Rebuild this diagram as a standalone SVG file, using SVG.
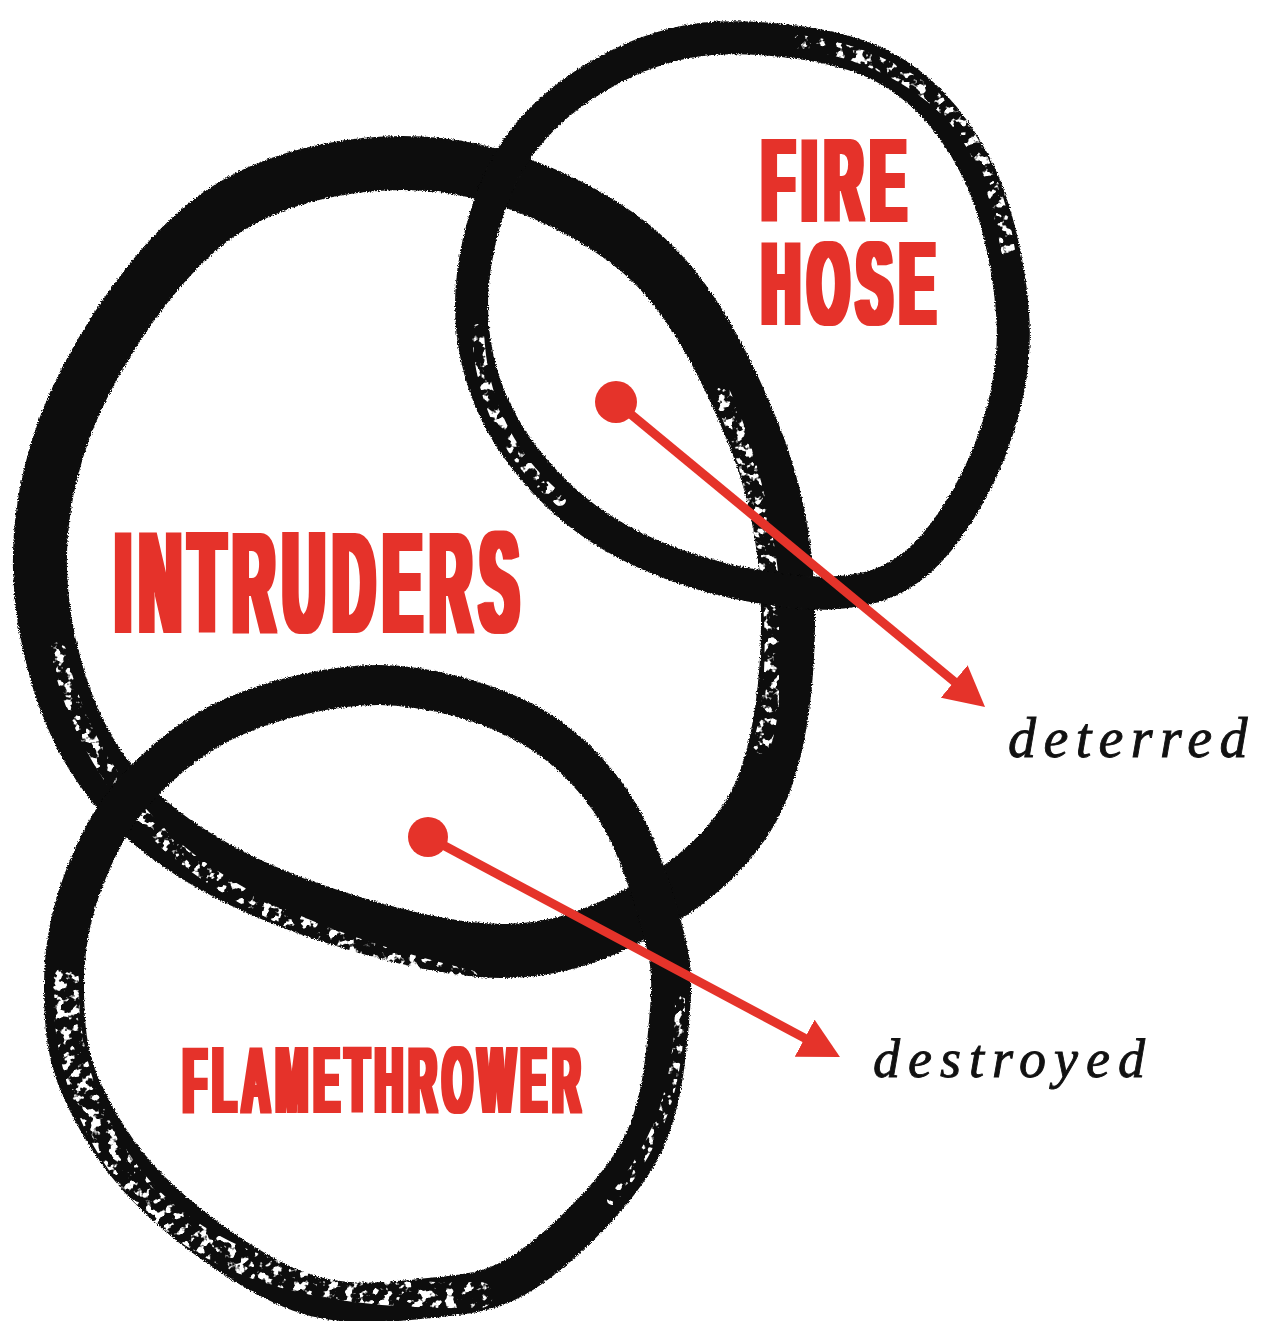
<svg xmlns="http://www.w3.org/2000/svg" width="1268" height="1321" viewBox="0 0 1268 1321">
  <defs>
    <style>
      .ring { fill: none; stroke: #0b0b0b; stroke-linejoin: round; filter: url(#rough); }
      .dry { fill: none; stroke: #ffffff; stroke-linecap: round; filter: url(#speck); }
      .label { font-family: "Liberation Sans", Arial, sans-serif; font-weight: bold; fill: #e5332a; }
      .note { font-family: "Liberation Serif", "Times New Roman", serif; font-style: italic; fill: #111111; stroke: #111111; stroke-width: 0.9; }
      .arrow { stroke: #e5332a; stroke-width: 9; fill: none; }
      .dot { fill: #e5332a; }
    </style>
    <filter id="rough" x="-5%" y="-5%" width="110%" height="110%">
      <feTurbulence type="fractalNoise" baseFrequency="0.7" numOctaves="2" seed="4" result="n"/>
      <feDisplacementMap in="SourceGraphic" in2="n" scale="4" xChannelSelector="R" yChannelSelector="G"/>
    </filter>
    <filter id="speck" x="-10%" y="-10%" width="120%" height="120%" color-interpolation-filters="sRGB">
      <feTurbulence type="fractalNoise" baseFrequency="0.11" numOctaves="3" seed="11" result="m"/>
      <feColorMatrix in="m" type="matrix" values="0 0 0 0 0  0 0 0 0 0  0 0 0 0 0  11 0 0 0 -5.9" result="mask"/>
      <feComposite in="SourceGraphic" in2="mask" operator="in"/>
    </filter>
    <filter id="stemFH" x="-10%" y="-10%" width="120%" height="120%">
      <feMorphology operator="dilate" radius="8.9 0.5"/>
    </filter>
    <filter id="stemIN" x="-10%" y="-10%" width="120%" height="120%">
      <feMorphology operator="dilate" radius="9.8 0.5"/>
    </filter>
    <filter id="stemFL" x="-10%" y="-10%" width="120%" height="120%">
      <feMorphology operator="dilate" radius="7.2 0.5"/>
    </filter>
    <marker id="head" viewBox="0 0 40 42" refX="10" refY="21" markerWidth="40" markerHeight="42" markerUnits="userSpaceOnUse" orient="auto">
      <path d="M0,0 L40,21 L0,42 Z" fill="#e5332a"/>
    </marker>
  </defs>
  <rect x="0" y="0" width="1268" height="1321" fill="#ffffff"/>

  <g id="node-intruders">
    <path class="ring" stroke-width="54" d="M440,165 C508.3,172.5 588,207.8 640,252 C692,296.2 727.3,370.3 752,430 C776.7,489.7 787.2,548.3 788,610 C788.8,671.7 781.7,749.7 757,800 C732.3,850.3 686.2,887 640,912 C593.8,937 546.7,955.3 480,950 C413.3,944.7 304.2,911.7 240,880 C175.8,848.3 128.3,811.7 95,760 C61.7,708.3 41.5,633.3 40,570 C38.5,506.7 54.3,440.5 86,380 C117.7,319.5 171,242.8 230,207 C289,171.2 371.7,157.5 440,165 Z"/>
    <path class="dry" stroke-width="18" d="M722,395 C745,445 765,520 772,600 C776,660 772,710 762,745"/>
    <path class="dry" stroke-width="16" d="M58,650 C72,720 110,790 170,845 C240,905 330,945 470,978"/>
    <text class="label" transform="translate(115,631.5) scale(0.41,1)" x="0" y="0" font-size="142" letter-spacing="19.5" filter="url(#stemIN)">INTRUDERS</text>
  </g>

  <g id="node-firehose">
    <path class="ring" stroke-width="33" d="M720,38 C766.7,36.3 837.5,43.8 880,65 C922.5,86.2 952.8,122.5 975,165 C997.2,207.5 1010.5,272.5 1013,320 C1015.5,367.5 1005.5,410 990,450 C974.5,490 946.7,536.2 920,560 C893.3,583.8 868.3,591.3 830,593 C791.7,594.7 732.5,583.8 690,570 C647.5,556.2 607.5,536.7 575,510 C542.5,483.3 512.2,446.7 495,410 C477.8,373.3 469.5,331.7 472,290 C474.5,248.3 488.7,195.8 510,160 C531.3,124.2 565,95.3 600,75 C635,54.7 673.3,39.7 720,38 Z"/>
    <path class="dry" stroke-width="14" d="M800,42 C860,50 915,75 955,118 C985,155 1000,200 1008,250"/>
    <path class="dry" stroke-width="12" d="M478,330 C480,400 510,460 560,500"/>
    <text class="label" transform="translate(762,0) scale(0.449,1)" font-size="117" letter-spacing="17.8" filter="url(#stemFH)"><tspan x="0" y="221.5">FIRE</tspan><tspan x="0" y="324.5">HOSE</tspan></text>
  </g>

  <g id="node-flamethrower">
    <path class="ring" stroke-width="40" d="M380,685 C427.8,685.5 481.7,700.8 520,720 C558.3,739.2 586.7,766.7 610,800 C633.3,833.3 650,885 660,920 C670,955 673.3,971.7 670,1010 C666.7,1048.3 663.3,1107 640,1150 C616.7,1193 565,1243.3 530,1268 C495,1292.7 468.3,1294 430,1298 C391.7,1302 345,1308.3 300,1292 C255,1275.7 196.3,1233.7 160,1200 C123.7,1166.3 98,1125 82,1090 C66,1055 64.3,1023.3 64,990 C63.7,956.7 68.5,922.8 80,890 C91.5,857.2 107.5,821.8 133,793 C158.5,764.2 191.8,735 233,717 C274.2,699 332.2,684.5 380,685 Z"/>
    <path class="dry" stroke-width="26" d="M66,980 C64,1060 92,1140 150,1200 C210,1260 300,1298 480,1295"/>
    <path class="dry" stroke-width="10" d="M680,1000 C680,1080 662,1140 612,1200"/>
    <text class="label" transform="translate(183,1111.5) scale(0.418,1)" x="0" y="0" font-size="92" letter-spacing="14.4" filter="url(#stemFL)">FLAMETHROWER</text>
  </g>

  <g id="node-deterred">
    <text class="note" x="1008" y="757" font-size="56" letter-spacing="7.4">deterred</text>
  </g>

  <g id="node-destroyed">
    <text class="note" x="873" y="1077" font-size="54" letter-spacing="8">destroyed</text>
  </g>

  <g id="connectors">
    <line class="arrow" x1="616" y1="402" x2="961.9" y2="687.9" marker-end="url(#head)"/>
    <circle class="dot" cx="616" cy="402" r="21"/>
    <line class="arrow" x1="428" y1="837" x2="813.5" y2="1042.9" marker-end="url(#head)"/>
    <circle class="dot" cx="428" cy="837" r="20"/>
  </g>
</svg>
